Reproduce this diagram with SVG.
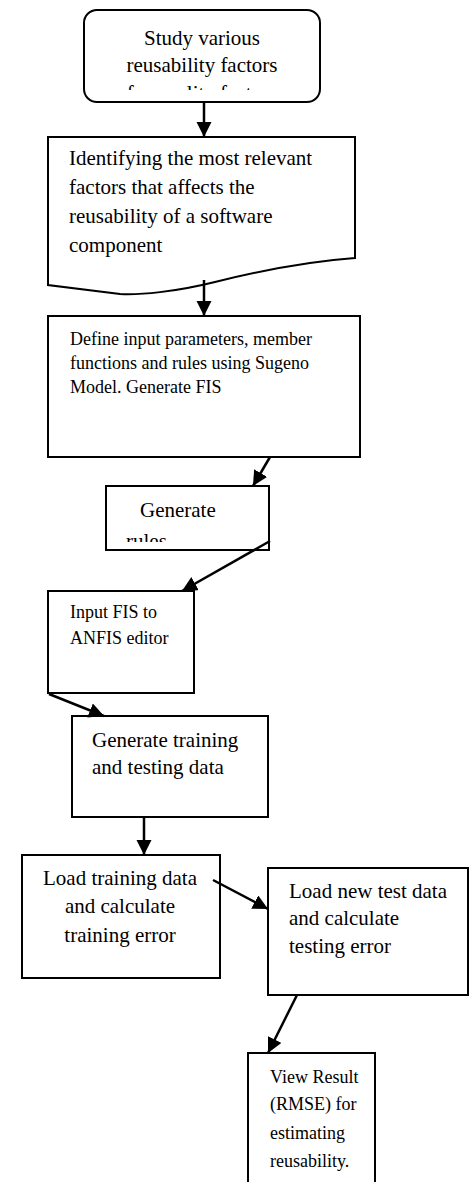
<svg xmlns="http://www.w3.org/2000/svg" width="472" height="1182" viewBox="0 0 472 1182">
<style>
.box{fill:#fff;stroke:#000;stroke-width:2}
.t{font-family:"Liberation Serif","Times New Roman",serif;font-size:21px;fill:#000}
.s{font-size:18px}
.c{text-anchor:middle}
.con line{stroke:#000;stroke-width:2.5}
</style>
<defs>
<marker id="ah" markerUnits="userSpaceOnUse" markerWidth="16" markerHeight="16" refX="15" refY="7.5" orient="auto" viewBox="0 0 16 16">
<path d="M0,0 L15,7.5 L0,15 z" fill="#000"/>
</marker>
<clipPath id="c1"><rect x="84" y="10" width="236" height="80"/></clipPath>
<clipPath id="c4"><rect x="106" y="486" width="163" height="56"/></clipPath>
</defs>
<g id="n1">
<rect class="box" x="84" y="10" width="236" height="92" rx="13"/>
<g clip-path="url(#c1)">
<text class="t c" x="202" y="45">Study various</text>
<text class="t c" x="202" y="72">reusability factors</text>
<text class="t c" x="202" y="100">for quality factors</text>
</g>
</g>
<g id="n2">
<path class="box" d="M48,137 H355 V258 C300,262 255,272 215,282 C175,292 140,295 120,294 L48,285 Z"/>
<text class="t" x="69" y="165">Identifying the most relevant</text>
<text class="t" x="69" y="194">factors that affects the</text>
<text class="t" x="69" y="223">reusability of a software</text>
<text class="t" x="69" y="252">component</text>
</g>
<g id="n3">
<rect class="box" x="48" y="316" width="312" height="141"/>
<text class="t s" x="70" y="345">Define input parameters, member</text>
<text class="t s" x="70" y="369">functions and rules using Sugeno</text>
<text class="t s" x="70" y="393">Model. Generate FIS</text>
</g>
<g id="n4">
<rect class="box" x="106" y="486" width="163" height="64"/>
<g clip-path="url(#c4)">
<text class="t" x="140" y="517">Generate</text>
<text class="t" x="126" y="548">rules</text>
</g>
</g>
<g id="n5">
<rect class="box" x="48" y="591" width="146" height="102"/>
<text class="t s" x="70" y="618">Input FIS to</text>
<text class="t s" x="70" y="644">ANFIS editor</text>
</g>
<g id="n6">
<rect class="box" x="72" y="716" width="196" height="101"/>
<text class="t" x="92" y="747">Generate training</text>
<text class="t" x="92" y="774">and testing data</text>
</g>
<g id="n7">
<rect class="box" x="22" y="855" width="198" height="123"/>
<text class="t c" x="120" y="885">Load training data</text>
<text class="t c" x="120" y="913">and calculate</text>
<text class="t c" x="120" y="942">training error</text>
</g>
<g id="n8">
<rect class="box" x="268" y="868" width="200" height="127"/>
<text class="t" x="289" y="898">Load new test data</text>
<text class="t" x="289" y="925">and calculate</text>
<text class="t" x="289" y="953">testing error</text>
</g>
<g id="n9">
<rect class="box" x="248" y="1053" width="127" height="140"/>
<text class="t s" x="270" y="1083">View Result</text>
<text class="t s" x="270" y="1110">(RMSE) for</text>
<text class="t s" x="270" y="1139">estimating</text>
<text class="t s" x="270" y="1167">reusability.</text>
</g>
<g id="connectors" class="con">
<line x1="204" y1="102" x2="204" y2="137" marker-end="url(#ah)"/>
<line x1="204" y1="280" x2="204" y2="316" marker-end="url(#ah)"/>
<line x1="270" y1="457" x2="253" y2="486" marker-end="url(#ah)"/>
<line x1="270" y1="541" x2="182" y2="591" marker-end="url(#ah)"/>
<line x1="49" y1="694" x2="104" y2="716" marker-end="url(#ah)"/>
<line x1="144" y1="817" x2="144" y2="855" marker-end="url(#ah)"/>
<line x1="213" y1="880" x2="268" y2="909" marker-end="url(#ah)"/>
<line x1="297" y1="995" x2="268" y2="1053" marker-end="url(#ah)"/>
</g>
</svg>
